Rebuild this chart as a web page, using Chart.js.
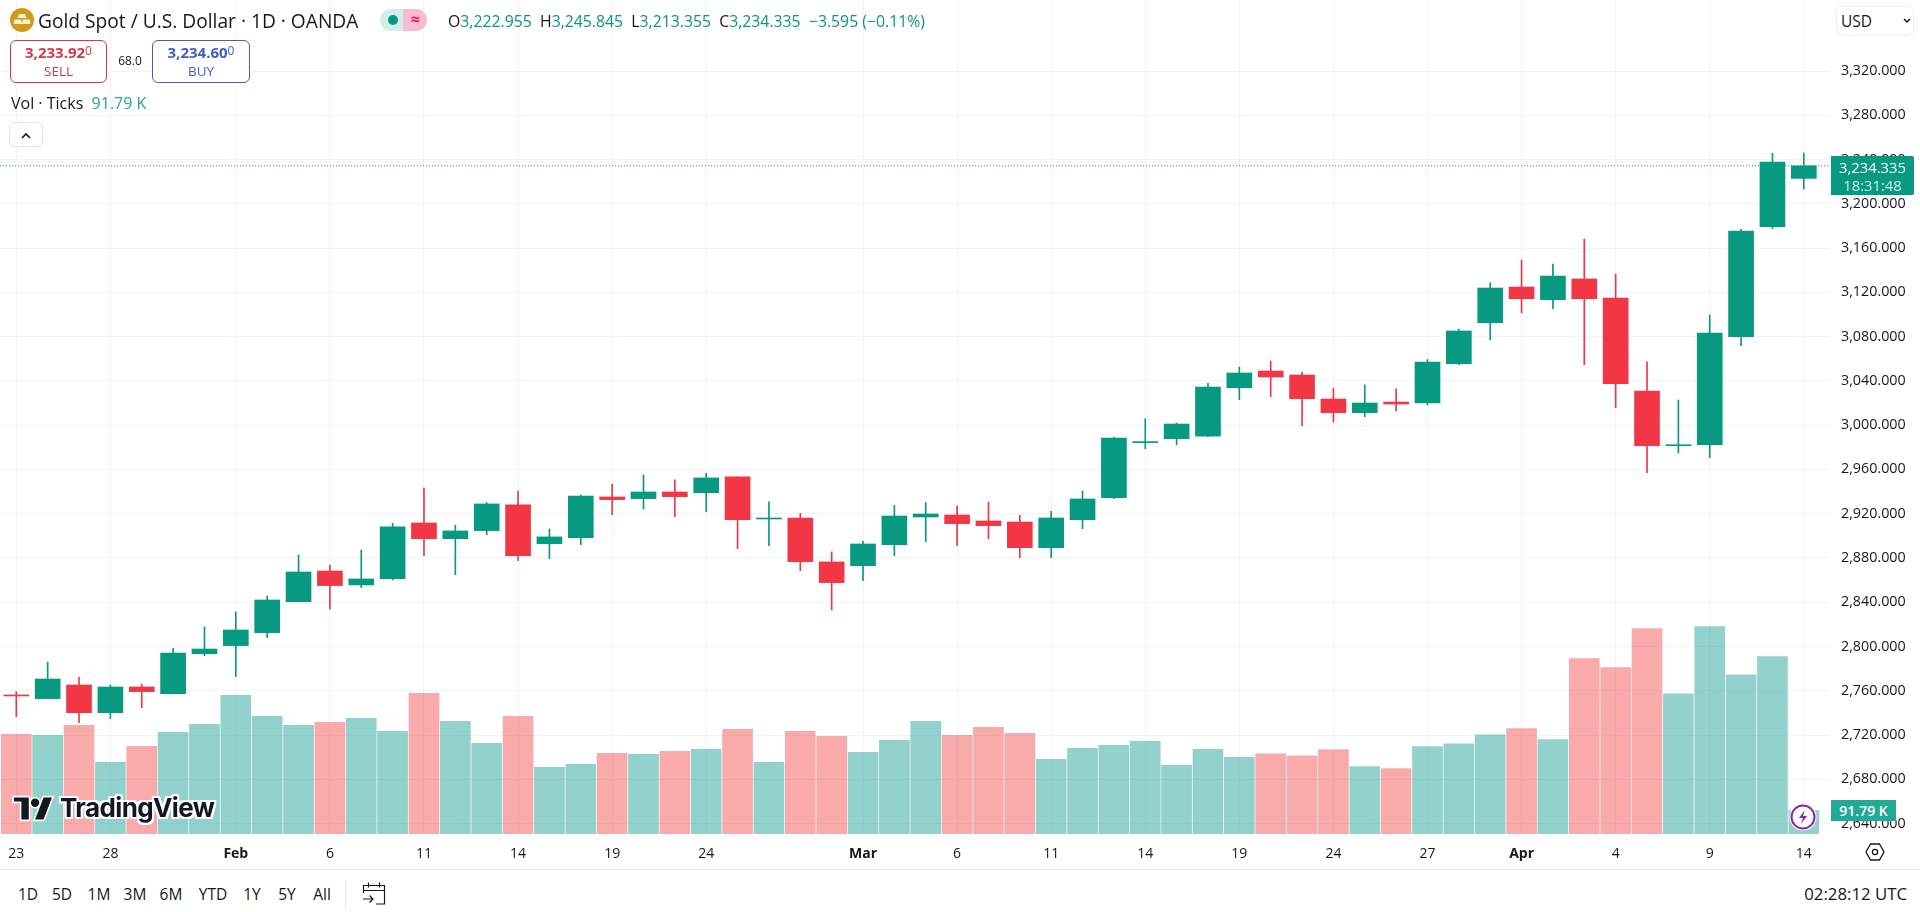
<!DOCTYPE html>
<html>
<head>
<meta charset="utf-8">
<title>Gold Spot / U.S. Dollar</title>
<script src="https://cdn.jsdelivr.net/npm/chart.js@4/dist/chart.umd.min.js"></script>
<style>
  html, body { margin: 0; padding: 0; background: #fff; width: 1920px; height: 912px; overflow: hidden; }
  body { position: relative; font-family: 'Open Sans', sans-serif; color: #131722; }
  canvas { position: absolute; left: 0; top: 0; }
  .abs { position: absolute; white-space: nowrap; }
  .up { color: #089981; }
  .box { position: absolute; box-sizing: border-box; border: 1px solid; border-radius: 6px; background: #fff; text-align: center; }
  .box b { display: block; font-size: 15px; font-weight: 700; line-height: 19px; margin-top: 2px; }
  .box b sup { font-size: 12px; font-weight: 400; vertical-align: 3px; line-height: 0; }
  .box span { display: block; font-size: 13.5px; line-height: 18px; }
  .range { top: 884px; font-size: 15.5px; line-height: 20px; transform: translateX(-50%); }
</style>
</head>
<body>
<canvas id="chart" width="1920" height="870"></canvas>

<!-- legend row -->
<svg class="abs" style="left:10px;top:8px" width="24" height="24" viewBox="0 0 24 24">
  <circle cx="12" cy="12" r="12" fill="#d19a1a"/>
  <path d="M9 6h6l1.2 4H7.8zM4.5 11.5h6.6l1 4.5H3.5zM12.9 11.5h6.6l1 4.5h-8.6z" fill="#fff3cf"/>
</svg>
<div class="abs" style="left:38px;top:8px;font-size:19.2px;line-height:26px">Gold Spot / U.S. Dollar · 1D · OANDA</div>
<div class="abs" style="left:380px;top:9px;width:24px;height:22px;background:#d3eeea;border-radius:11px 0 0 11px"></div>
<div class="abs" style="left:403px;top:9px;width:24px;height:22px;background:#f8bbd0;border-radius:0 11px 11px 0;color:#e91e63;font-size:16px;font-weight:700;line-height:20px;text-align:center">≈</div>
<div class="abs" style="left:388px;top:15px;width:10px;height:10px;background:#089981;border-radius:5px"></div>
<div class="abs" style="left:448px;top:10px;font-size:15.8px;line-height:22px">O<span class="up">3,222.955</span>&nbsp; H<span class="up">3,245.845</span>&nbsp; L<span class="up">3,213.355</span>&nbsp; C<span class="up">3,234.335</span>&nbsp; <span class="up">−3.595 (−0.11%)</span></div>

<!-- sell / buy -->
<div class="box" style="left:10px;top:40px;width:97px;height:43px;border-color:#d6384b;color:#d6384b"><b>3,233.92<sup>0</sup></b><span>SELL</span></div>
<div class="abs" style="left:108px;top:52px;width:44px;text-align:center;font-size:12px;line-height:18px">68.0</div>
<div class="box" style="left:152px;top:40px;width:98px;height:43px;border-color:#3d5fc4;color:#3d5fc4"><b>3,234.60<sup>0</sup></b><span>BUY</span></div>

<!-- volume legend -->
<div class="abs" style="left:11px;top:92px;font-size:16px;line-height:22px">Vol · Ticks &nbsp;<span style="color:#22ab94">91.79 K</span></div>
<div class="box" style="left:9px;top:122px;width:34px;height:25px;border-color:#e0e3eb">
  <svg width="12" height="8" viewBox="0 0 12 8" style="margin-top:7px"><path d="M2 6l4-4 4 4" fill="none" stroke="#131722" stroke-width="1.6"/></svg>
</div>

<!-- currency -->
<div class="box" style="left:1836px;top:6px;width:78px;height:30px;border-color:#eceef2;text-align:left;padding-left:4px;font-size:15.5px;line-height:28px">USD
  <svg style="position:absolute;left:66px;top:11px" width="8" height="6" viewBox="0 0 8 6"><path d="M1 1l3 3 3-3" fill="none" stroke="#131722" stroke-width="1.5"/></svg>
</div>

<!-- last price label -->
<div class="abs" style="left:1831px;top:156px;width:83px;height:39px;background:#089981;border-radius:0 2px 2px 0;color:#fff;font-size:14.8px;line-height:18px;text-align:center">
  <div style="margin-top:2px">3,234.335</div><div style="color:#c9efe6">18:31:48</div>
</div>
<div class="abs" style="left:1831px;top:800px;width:65px;height:21px;background:#22ab94;color:#fff;font-size:14px;font-weight:600;line-height:21px;text-align:center">91.79 K</div>

<!-- logo -->
<svg class="abs" style="left:14px;top:794px;overflow:visible" width="38" height="30" viewBox="0 0 36 28">
  <g fill="#131722" stroke="#fff" stroke-width="3" paint-order="stroke">
    <path d="M14 24H7V7H0V3h14z"/><circle cx="20" cy="8" r="4"/><path d="M28 24h-8L28 3h8z"/>
  </g>
</svg>
<div class="abs" style="left:60px;top:791px;font-family:Inter,sans-serif;font-size:26px;font-weight:700;line-height:34px;letter-spacing:-.6px;color:#131722;text-shadow:2px 0 #fff,-2px 0 #fff,0 2px #fff,0 -2px #fff,2px 2px #fff,-2px -2px #fff,2px -2px #fff,-2px 2px #fff">TradingView</div>

<!-- flash icon -->
<svg class="abs" style="left:1789px;top:803px" width="28" height="28" viewBox="0 0 28 28">
  <circle cx="14" cy="14" r="13.5" fill="#fff"/>
  <circle cx="14" cy="14" r="11.5" fill="#fff" stroke="#8e24aa" stroke-width="2"/>
  <path d="M16 7l-6 8h4l-2 6 6-8h-4z" fill="#8e24aa"/>
</svg>

<!-- settings hexagon -->
<svg class="abs" style="left:1865px;top:843px" width="20" height="18" viewBox="0 0 20 18">
  <path d="M1 9l4.5-8h9L19 9l-4.500 8h-9z" fill="none" stroke="#131722" stroke-width="1.3"/>
  <circle cx="10" cy="9" r="2.600" fill="none" stroke="#131722" stroke-width="1.300"/>
</svg>

<!-- bottom bar -->
<div class="abs" style="left:0;top:869px;width:1920px;height:1px;background:#e0e3eb"></div>
<div class="abs range" style="left:28px">1D</div>
<div class="abs range" style="left:62px">5D</div>
<div class="abs range" style="left:99px">1M</div>
<div class="abs range" style="left:135px">3M</div>
<div class="abs range" style="left:171px">6M</div>
<div class="abs range" style="left:213px">YTD</div>
<div class="abs range" style="left:252px">1Y</div>
<div class="abs range" style="left:287px">5Y</div>
<div class="abs range" style="left:322px">All</div>
<div class="abs" style="left:345px;top:880px;width:1px;height:28px;background:#e0e3eb"></div>
<svg class="abs" style="left:362px;top:881px" width="24" height="24" viewBox="0 0 24 24">
  <path d="M1.500 12V4.500h21V23H14M1.500 9.500h21M6.500 1.500v5M17.500 1.500v5M1 18h10M7.500 14.500L11 18l-3.500 3.500" fill="none" stroke="#131722" stroke-width="1.200"/>
</svg>
<div class="abs" style="right:13px;top:883px;font-size:16.8px;line-height:22px">02:28:12 UTC</div>

<script>
const dateLabels = { 0: '23', 3: '28', 7: 'Feb', 10: '6', 13: '11', 16: '14', 19: '19', 22: '24', 27: 'Mar', 30: '6', 33: '11', 36: '14', 39: '19', 42: '24', 45: '27', 48: 'Apr', 51: '4', 54: '9', 57: '14' }
const monthTicks = ['Feb', 'Mar', 'Apr']
const priceTicks = [2640, 2680, 2720, 2760, 2800, 2840, 2880, 2920, 2960, 3000, 3040, 3080, 3120, 3160, 3200, 3240, 3280, 3320]

const opens = [2756.2, 2752.9, 2765.2, 2740.2, 2763.4, 2757.4, 2793.5, 2800.8, 2812.5, 2840.5, 2868.2, 2855.6, 2861.3, 2911.6, 2897.4, 2904.7, 2927.9, 2892.9, 2898.3, 2935.1, 2933.6, 2939.6, 2939, 2953.2, 2915.2, 2916.1, 2876.4, 2873, 2892, 2917, 2918.8, 2913.4, 2912.5, 2889.3, 2914.6, 2934.5, 2984.2, 2987.8, 2990.1, 3033.8, 3048.9, 3045.3, 3023.6, 3011.3, 3020.9, 3020, 3055.5, 3092.6, 3124.8, 3113.4, 3132.1, 3114.9, 3030.8, 2981.4, 2982.3, 3080, 3179.3, 3222.955]
const highs = [2759.2, 2786, 2772.1, 2765.2, 2766.1, 2798.4, 2817.6, 2831.2, 2845.6, 2882.7, 2873.6, 2887.2, 2911.3, 2943.2, 2909.5, 2930, 2940.5, 2906.2, 2936.9, 2946.8, 2955, 2950.5, 2956.5, 2953.2, 2930.6, 2920.3, 2885.4, 2895, 2927.6, 2930, 2927, 2930.6, 2918.5, 2922.1, 2940.5, 2989.3, 3005.8, 3001.9, 3037.8, 3052.5, 3057.9, 3048, 3033.5, 3036.3, 3032.9, 3059.4, 3086.9, 3128.7, 3149.2, 3145.6, 3168.2, 3136.6, 3057.3, 3022.7, 3099.5, 3176.9, 3245.6, 3245.845]
const lows = [2736.6, 2752.9, 2731.2, 2734.8, 2744.7, 2757.4, 2791.7, 2772.8, 2808, 2840.5, 2833.9, 2853.2, 2860, 2882.1, 2864.9, 2901.1, 2877.6, 2879.4, 2892, 2919.1, 2924.3, 2917.3, 2921.8, 2888.4, 2891.1, 2868.5, 2833, 2859.5, 2882.1, 2894.7, 2891.1, 2897.4, 2880.3, 2880.3, 2906.5, 2933.6, 2978.7, 2982.3, 2989.5, 3023, 3025.7, 2999.5, 3002.8, 3007.6, 3012.8, 3018.2, 3054.6, 3077.2, 3101.6, 3105.2, 3054.6, 3015.8, 2957, 2974.8, 2970.6, 3071.8, 3177.5, 3213.355]
const closes = [2755.3, 2770.6, 2740.2, 2763.4, 2759.2, 2794.1, 2797.7, 2814.9, 2842, 2867.3, 2855, 2861, 2908, 2897.4, 2904.4, 2928.8, 2882.1, 2899, 2936, 2932.7, 2939.6, 2935.4, 2952.3, 2914.6, 2916.1, 2876.7, 2857.7, 2892.6, 2917.9, 2919.7, 2911, 2909.2, 2889.3, 2916.1, 2933.3, 2988.4, 2984.8, 3001, 3034.4, 3047.1, 3043.5, 3023.9, 3011.3, 3020, 3019.1, 3057, 3085.1, 3123.9, 3114.3, 3134.7, 3114.3, 3037.5, 2981.4, 2982, 3083.2, 3175.4, 3237.8, 3234.335]
const volumes = [389, 385, 424, 280, 342, 397, 428, 541, 459, 424, 436, 451, 400, 549, 439, 354, 459, 260, 272, 315, 311, 322, 330, 408, 280, 400, 381, 319, 365, 439, 385, 416, 393, 291, 334, 346, 361, 268, 330, 299, 313, 305, 329, 263, 255, 341, 352, 387, 411, 368, 684, 649, 801, 547, 809, 621, 692, 91.79]
const lastClose = 3234.335

const upColor = '#089981'
const downColor = '#f23645'
const upVol = 'rgba(8, 153, 140, 0.44)'
const downVol = 'rgba(242, 70, 70, 0.46)'
const gridColor = '#f0f3fa'
const xMin = -0.52
const xMax = 57.835

const isUp = closes.map((c, i) => c >= opens[i])
const tickIdx = Object.keys(dateLabels).map(Number)

new Chart(document.getElementById('chart'), {
  data: {
    datasets: [
      {
        type: 'line',
        data: [{ x: xMin, y: lastClose }, { x: xMax, y: lastClose }],
        borderColor: upColor,
        borderWidth: 1,
        borderDash: [1, 2],
        pointRadius: 0,
        yAxisID: 'y',
        order: 0,
      },
      {
        type: 'bar',
        data: opens.map((o, i) => ({ x: i, y: [o, closes[i]] })),
        backgroundColor: isUp.map((u) => (u ? upColor : downColor)),
        barThickness: 25,
        minBarLength: 1,
        grouped: false,
        yAxisID: 'y',
        order: 1,
      },
      {
        type: 'bar',
        data: highs.map((h, i) => ({ x: i, y: [lows[i], h] })),
        backgroundColor: isUp.map((u) => (u ? upColor : downColor)),
        barThickness: 1,
        grouped: false,
        yAxisID: 'y',
        order: 2,
      },
      {
        type: 'bar',
        data: volumes.map((v, i) => ({ x: i, y: v })),
        backgroundColor: isUp.map((u) => (u ? upVol : downVol)),
        barThickness: 30,
        grouped: false,
        yAxisID: 'yVol',
        order: 3,
      },
    ],
  },
  options: {
    responsive: false,
    animation: false,
    layout: { padding: 0 },
    plugins: { legend: { display: false }, tooltip: { enabled: false } },
    scales: {
      x: {
        type: 'linear',
        offset: false,
        min: xMin,
        max: xMax,
        border: { display: false },
        grid: { color: gridColor, drawTicks: false, offset: false },
        afterBuildTicks(scale) {
          scale.ticks = tickIdx.map((v) => ({ value: v }))
        },
        afterFit(scale) {
          scale.height = 36
          scale.paddingLeft = 0
          scale.paddingRight = 0
        },
        ticks: {
          autoSkip: false,
          maxRotation: 0,
          padding: 12,
          color: '#131722',
          font: (ctx) => {
            const bold = ctx.tick && monthTicks.includes(dateLabels[ctx.tick.value])
            return { family: "'Open Sans', sans-serif", size: 14, weight: bold ? '700' : '400' }
          },
          callback: (v) => dateLabels[v] || '',
        },
      },
      y: {
        position: 'right',
        min: 2630.55,
        max: 3384.16,
        border: { display: false },
        grid: { color: gridColor, drawTicks: false },
        afterBuildTicks(scale) {
          scale.ticks = priceTicks.map((v) => ({ value: v }))
        },
        afterFit(scale) {
          scale.width = 90
          scale.paddingTop = 0
          scale.paddingBottom = 0
        },
        ticks: {
          autoSkip: false,
          padding: 11,
          color: '#131722',
          font: { family: "'Open Sans', sans-serif", size: 14.3 },
          callback: (v) => v.toLocaleString('en-US', { minimumFractionDigits: 3 }),
        },
      },
      yVol: {
        display: false,
        min: 0,
        max: 3253,
      },
    },
  },
})
</script>
</body>
</html>
